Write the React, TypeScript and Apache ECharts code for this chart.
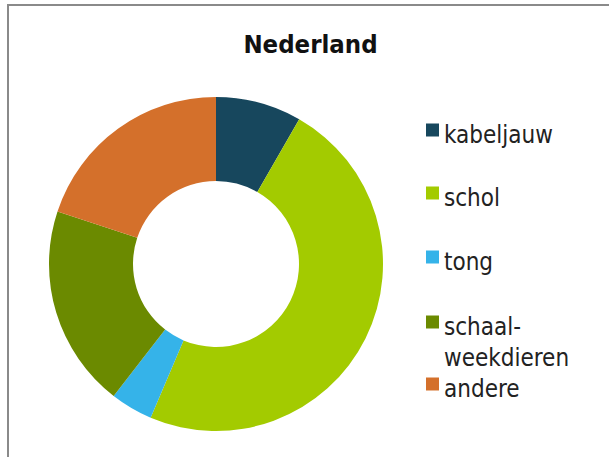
import React, { useEffect, useRef } from "react";
import * as echarts from "echarts";

const categories = ["kabeljauw", "schol", "tong", "schaal-weekdieren", "andere"];
const legendLines = [["kabeljauw"], ["schol"], ["tong"], ["schaal-", "weekdieren"], ["andere"]];
const shares = [8.3, 48.1, 4.1, 19.6, 19.9];
const colors = ["#17475d", "#a3cb00", "#35b3e9", "#6b8a00", "#d4702b"];
const titleText = "Nederland";

const FONT = "'DejaVu Sans Condensed', 'DejaVu Sans', sans-serif";

export default function App() {
  const ref = useRef<HTMLDivElement>(null);

  useEffect(() => {
    if (!ref.current) return;
    const chart = echarts.init(ref.current, null, { renderer: "svg" });

    const legendCenters = [130, 193, 257, 322, 384];
    const lineStep = 31;
    const base = { fontFamily: FONT, fontSize: 24, color: "#222222" };
    const legends: any[] = [];
    categories.forEach((name, i) => {
      legendLines[i].forEach((line, j) => {
        legends.push({
          data: [name],
          orient: "vertical",
          left: 426,
          top: legendCenters[i] + j * lineStep - 17,
          padding: 0,
          itemWidth: 13,
          itemHeight: 13,
          icon: j === 0 ? "rect" : "none",
          selectedMode: false,
          formatter: () => `{t|${line}}`,
          textStyle: {
            ...base,
            rich: {
              t: { ...base, lineHeight: 24, padding: [10, 0, 0, 0] },
            },
          },
        });
      });
    });

    chart.setOption({
      animation: false,
      backgroundColor: "#ffffff",
      color: colors,
      graphic: [
        {
          type: "rect",
          shape: { x: 8, y: 5, width: 700, height: 600 },
          style: { fill: "none", stroke: "#8a8a8a", lineWidth: 2 },
          silent: true,
        },
        {
          type: "text",
          x: 310.5,
          y: 44,
          style: {
            text: titleText,
            fontFamily: FONT,
            fontWeight: "bold",
            fontSize: 25.5,
            fill: "#111111",
            align: "center",
            verticalAlign: "middle",
          },
          silent: true,
        },
      ],
      legend: legends,
      series: [
        {
          type: "pie",
          center: [216, 264],
          radius: [83, 167],
          startAngle: 90,
          clockwise: true,
          silent: true,
          label: { show: false },
          labelLine: { show: false },
          itemStyle: { borderWidth: 0 },
          emphasis: { disabled: true },
          data: categories.map((name, i) => ({ name, value: shares[i] })),
        },
      ],
    });

    return () => chart.dispose();
  }, []);

  return (
    <div
      ref={ref}
      style={{ position: "absolute", left: 0, top: 0, width: 609, height: 457 }}
    />
  );
}
